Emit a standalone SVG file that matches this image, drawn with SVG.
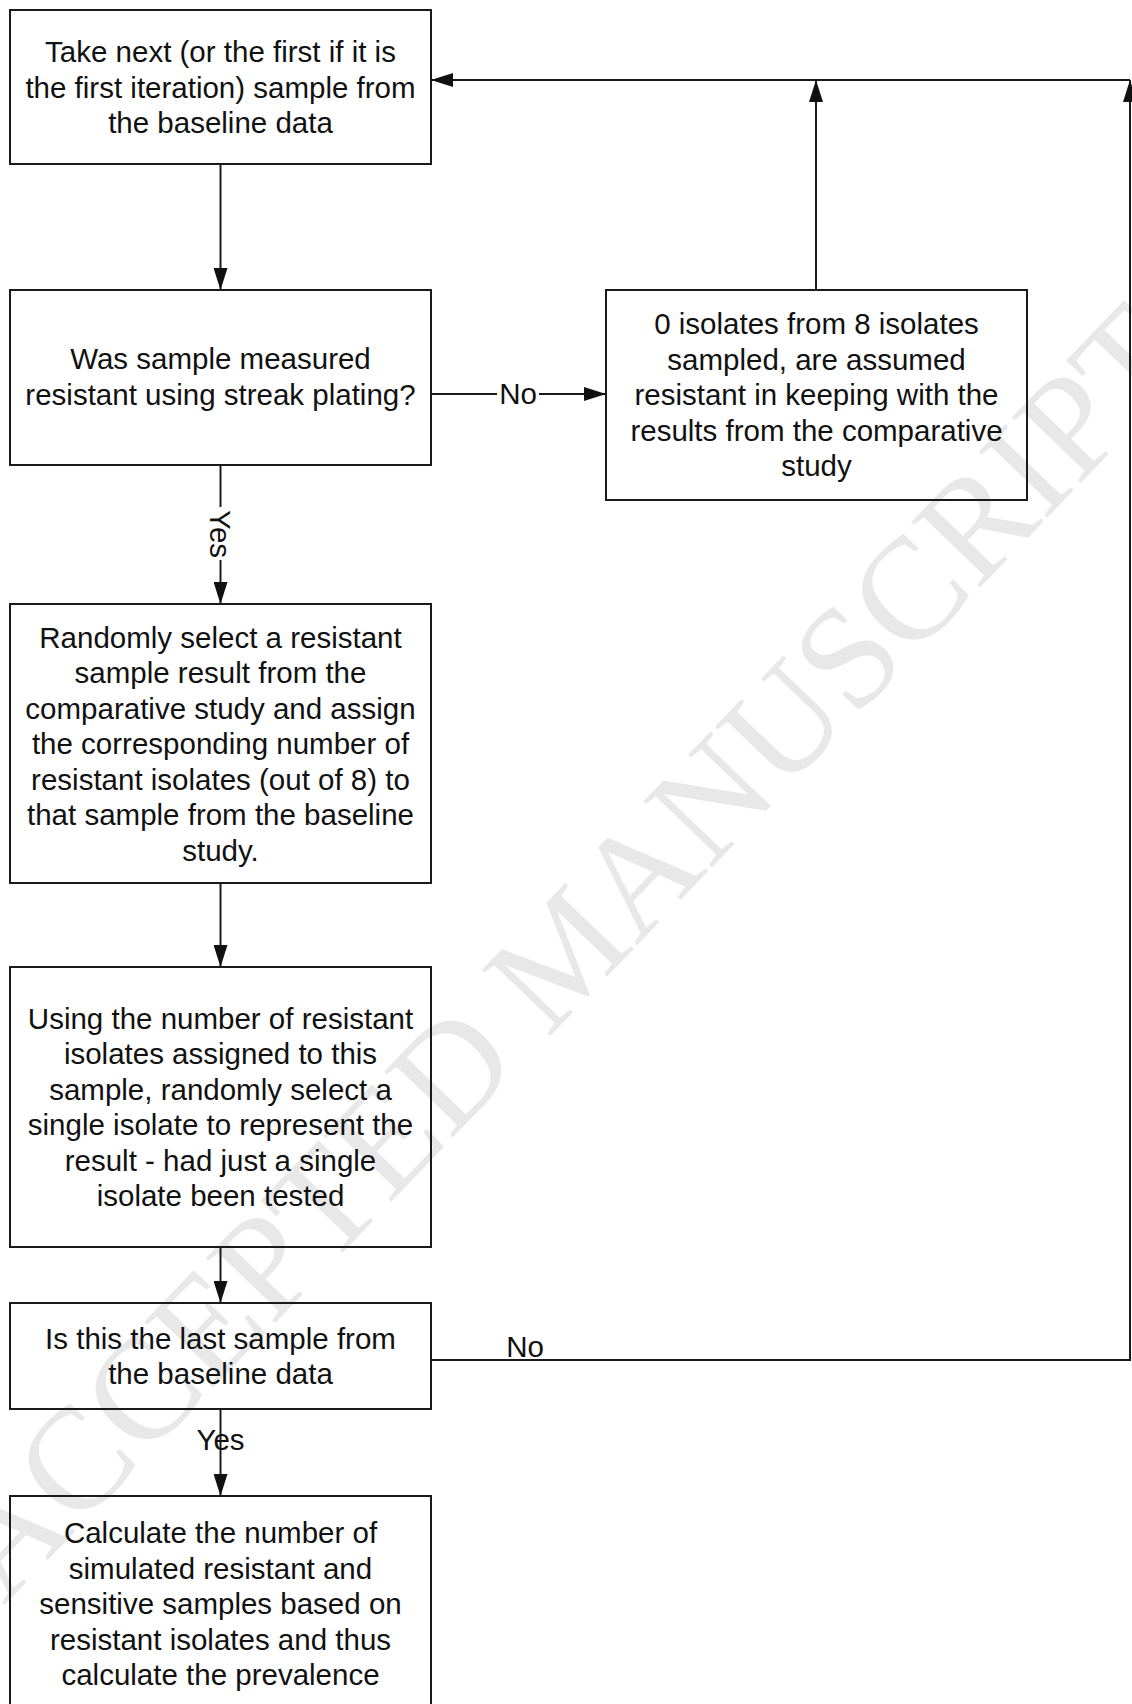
<svg xmlns="http://www.w3.org/2000/svg" width="1132" height="1704" viewBox="0 0 1132 1704">
<style>
.box{fill:none;stroke:#1a1a1a;stroke-width:2}
.t{font-family:"Liberation Sans",Arial,sans-serif;font-size:29.5px;fill:#111;text-anchor:middle}
.c{fill:none;stroke:#1a1a1a;stroke-width:2}
.wm{font-family:"Liberation Serif","Times New Roman",serif;font-size:145px;fill:#e8e8e8;text-anchor:middle}
</style>
<defs>
<marker id="arr" markerUnits="userSpaceOnUse" markerWidth="22" markerHeight="14" refX="22" refY="7" orient="auto">
<path d="M0,0 L22,7 L0,14 z" fill="#111"/>
</marker>
</defs>
<rect width="1132" height="1704" fill="#fff"/>
<g id="watermark">
<text class="wm" transform="translate(599,985) rotate(-46.2)">ACCEPTED MANUSCRIPT</text>
</g>
<g id="connectors">
<line class="c" x1="220.5" y1="164" x2="220.5" y2="290" marker-end="url(#arr)"/>
<line class="c" x1="431" y1="394" x2="497" y2="394"/>
<line class="c" x1="539" y1="394" x2="606" y2="394" marker-end="url(#arr)"/>
<text class="t" x="518" y="404">No</text>
<line class="c" x1="816" y1="290" x2="816" y2="80" marker-end="url(#arr)"/>
<line class="c" x1="1130" y1="80" x2="431" y2="80" marker-end="url(#arr)"/>
<line class="c" x1="220.5" y1="465" x2="220.5" y2="507"/>
<line class="c" x1="220.5" y1="560" x2="220.5" y2="604" marker-end="url(#arr)"/>
<text class="t" transform="translate(210,534) rotate(90)">Yes</text>
<line class="c" x1="220.5" y1="883" x2="220.5" y2="967" marker-end="url(#arr)"/>
<line class="c" x1="220.5" y1="1247" x2="220.5" y2="1303" marker-end="url(#arr)"/>
<line class="c" x1="220.5" y1="1409" x2="220.5" y2="1496" marker-end="url(#arr)"/>
<text class="t" x="220.5" y="1450">Yes</text>
<polyline class="c" points="431,1360 1130,1360 1130,80" marker-end="url(#arr)"/>
<text class="t" x="525" y="1357">No</text>
</g>
<g id="n1">
<rect class="box" x="10" y="10" width="421" height="154"/>
<text class="t" x="220.5" y="62">Take next (or the first if it is</text>
<text class="t" x="220.5" y="97.5">the first iteration) sample from</text>
<text class="t" x="220.5" y="133">the baseline data</text>
</g>
<g id="n2">
<rect class="box" x="10" y="290" width="421" height="175"/>
<text class="t" x="220.5" y="369">Was sample measured</text>
<text class="t" x="220.5" y="404.5">resistant using streak plating?</text>
</g>
<g id="n3">
<rect class="box" x="606" y="290" width="421" height="210"/>
<text class="t" x="816.5" y="334">0 isolates from 8 isolates</text>
<text class="t" x="816.5" y="369.5">sampled, are assumed</text>
<text class="t" x="816.5" y="405">resistant in keeping with the</text>
<text class="t" x="816.5" y="440.5">results from the comparative</text>
<text class="t" x="816.5" y="476">study</text>
</g>
<g id="n4">
<rect class="box" x="10" y="604" width="421" height="279"/>
<text class="t" x="220.5" y="647.5">Randomly select a resistant</text>
<text class="t" x="220.5" y="683">sample result from the</text>
<text class="t" x="220.5" y="718.5">comparative study and assign</text>
<text class="t" x="220.5" y="754">the corresponding number of</text>
<text class="t" x="220.5" y="789.5">resistant isolates (out of 8) to</text>
<text class="t" x="220.5" y="825">that sample from the baseline</text>
<text class="t" x="220.5" y="860.5">study.</text>
</g>
<g id="n5">
<rect class="box" x="10" y="967" width="421" height="280"/>
<text class="t" x="220.5" y="1028.75">Using the number of resistant</text>
<text class="t" x="220.5" y="1064.25">isolates assigned to this</text>
<text class="t" x="220.5" y="1099.75">sample, randomly select a</text>
<text class="t" x="220.5" y="1135.25">single isolate to represent the</text>
<text class="t" x="220.5" y="1170.75">result - had just a single</text>
<text class="t" x="220.5" y="1206.25">isolate been tested</text>
</g>
<g id="n6">
<rect class="box" x="10" y="1303" width="421" height="106"/>
<text class="t" x="220.5" y="1348.75">Is this the last sample from</text>
<text class="t" x="220.5" y="1384.25">the baseline data</text>
</g>
<g id="n7">
<rect class="box" x="10" y="1496" width="421" height="215"/>
<text class="t" x="220.5" y="1543">Calculate the number of</text>
<text class="t" x="220.5" y="1578.5">simulated resistant and</text>
<text class="t" x="220.5" y="1614">sensitive samples based on</text>
<text class="t" x="220.5" y="1649.5">resistant isolates and thus</text>
<text class="t" x="220.5" y="1685">calculate the prevalence</text>
</g>
</svg>
